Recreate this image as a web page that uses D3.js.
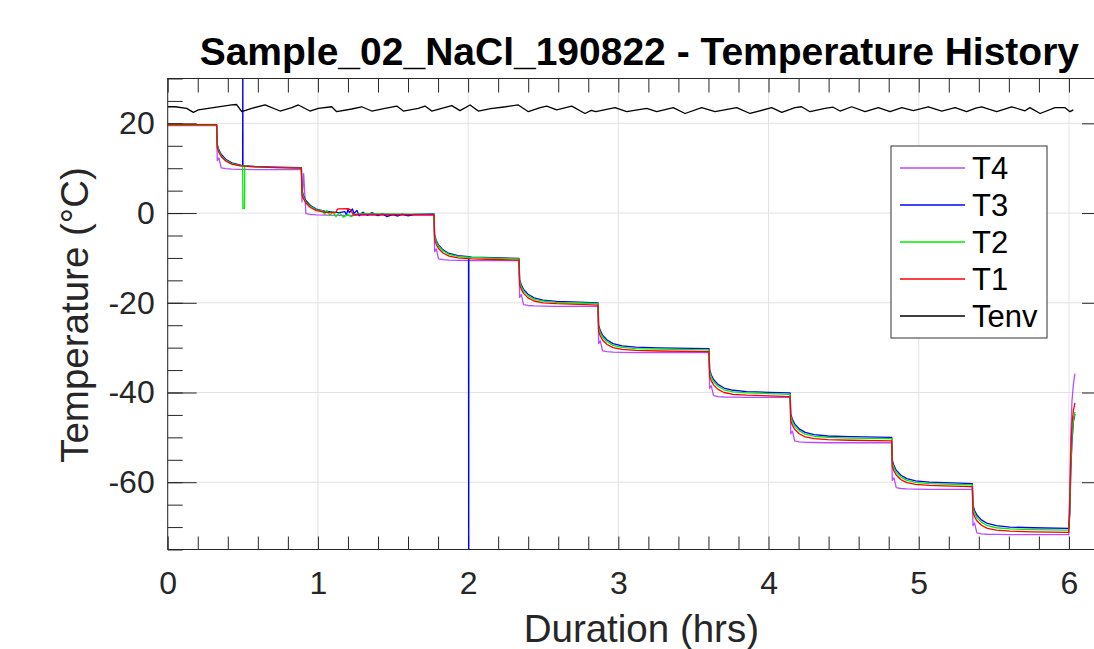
<!DOCTYPE html>
<html><head><meta charset="utf-8">
<script src="https://cdn.jsdelivr.net/npm/d3@7"></script>
<style>body{margin:0;background:#fff} text{font-family:"Liberation Sans",Arial,Helvetica,sans-serif}</style>
</head><body><svg id="c" width="1094" height="649"></svg>
<script>
// ---------- DATA ----------
const titleText = "Sample_02_NaCl_190822 - Temperature History";
const xLabelText = "Duration (hrs)";
const yLabelText = "Temperature (°C)";
const xDomain = [0, 6.28];
const yDomain = [-75, 30];
const xTicks = [0, 1, 2, 3, 4, 5, 6];
const yTicks = [-60, -40, -20, 0, 20];
const xTickLabels = ["0", "1", "2", "3", "4", "5", "6"];
const yTickLabels = ["-60", "-40", "-20", "0", "20"];
const seriesNames = ["T4", "T3", "T2", "T1", "Tenv"];

const timeT = [0, 0.324,
 0.326, 0.330, 0.341, 0.356, 0.386, 0.426, 0.486, 0.576, 0.726, 0.888,
 0.890, 0.894, 0.905, 0.920, 0.950, 0.990, 1.050, 1.140, 1.290, 1.771,
 1.773, 1.777, 1.788, 1.803, 1.833, 1.873, 1.933, 2.023, 2.173, 2.337,
 2.339, 2.343, 2.354, 2.369, 2.399, 2.439, 2.499, 2.589, 2.739, 2.863,
 2.865, 2.869, 2.880, 2.895, 2.925, 2.965, 3.025, 3.115, 3.265, 3.602,
 3.604, 3.608, 3.619, 3.634, 3.664, 3.704, 3.764, 3.854, 4.004, 4.142,
 4.144, 4.148, 4.159, 4.174, 4.204, 4.244, 4.304, 4.394, 4.544, 4.818,
 4.820, 4.824, 4.835, 4.850, 4.880, 4.920, 4.980, 5.070, 5.220, 5.355,
 5.357, 5.361, 5.372, 5.387, 5.417, 5.457, 5.517, 5.607, 5.757, 5.999,
 6.006, 6.012, 6.020, 6.030, 6.040];

const T3 = [19.6, 19.6,
 19.6, 15.3, 14.1, 13.1, 12.0, 11.2, 10.7, 10.4, 10.25, 10.1,
 10.1, 5.0, 3.8, 2.8, 1.7, 0.9, 0.4, 0.1, -0.05, -0.2,
 -0.2, -4.9, -6.1, -7.1, -8.2, -9.0, -9.5, -9.8, -9.95, -10.1,
 -10.1, -14.8, -16.0, -17.0, -18.1, -18.9, -19.4, -19.7, -19.85, -20.0,
 -20.0, -25.0, -26.2, -27.2, -28.3, -29.1, -29.6, -29.9, -30.05, -30.2,
 -30.2, -34.9, -36.1, -37.1, -38.2, -39.0, -39.5, -39.8, -39.95, -40.1,
 -40.1, -44.8, -46.0, -47.0, -48.1, -48.9, -49.4, -49.7, -49.85, -50.0,
 -50.0, -55.1, -56.3, -57.3, -58.4, -59.2, -59.7, -60.0, -60.15, -60.3,
 -60.3, -65.1, -66.3, -67.3, -68.4, -69.2, -69.7, -70.0, -70.15, -70.3,
 -67, -58, -51, -46.5, -44.8];

const T2 = [19.6, 19.6,
 19.6, 15.0, 13.8, 12.8, 11.8, 11.0, 10.55, 10.3, 10.15, 10.0,
 10.0, 4.7, 3.5, 2.5, 1.5, 0.7, 0.25, 0.0, -0.15, -0.3,
 -0.3, -5.2, -6.4, -7.4, -8.4, -9.2, -9.65, -9.9, -10.05, -10.2,
 -10.2, -15.2, -16.4, -17.4, -18.4, -19.2, -19.65, -19.9, -20.05, -20.2,
 -20.2, -25.5, -26.7, -27.7, -28.7, -29.5, -29.95, -30.2, -30.35, -30.5,
 -30.5, -35.4, -36.6, -37.6, -38.6, -39.4, -39.85, -40.1, -40.25, -40.4,
 -40.4, -45.3, -46.5, -47.5, -48.5, -49.3, -49.75, -50.0, -50.15, -50.3,
 -50.3, -55.6, -56.8, -57.8, -58.8, -59.6, -60.05, -60.3, -60.45, -60.6,
 -60.6, -65.7, -66.9, -67.9, -68.9, -69.7, -70.15, -70.4, -70.55, -70.7,
 -66, -57, -50, -46, -44.3];

const T1 = [19.7, 19.7,
 19.7, 14.5, 13.5, 12.6, 11.6, 10.9, 10.5, 10.3, 10.15, 10.0,
 10.0, 4.15, 3.15, 2.25, 1.25, 0.55, 0.15, 0.95, -0.3, -0.35,
 -0.35, -6.0, -7.0, -7.9, -8.9, -9.6, -10.0, -10.2, -10.35, -10.5,
 -10.5, -16.0, -17.0, -17.9, -18.9, -19.6, -20.0, -20.2, -20.35, -20.5,
 -20.5, -26.4, -27.4, -28.3, -29.3, -30.0, -30.4, -30.6, -30.75, -30.9,
 -30.9, -36.4, -37.4, -38.3, -39.3, -40.0, -40.4, -40.6, -40.75, -40.9,
 -40.9, -46.3, -47.3, -48.2, -49.2, -49.9, -50.3, -50.5, -50.65, -50.8,
 -50.8, -56.5, -57.5, -58.4, -59.4, -60.1, -60.5, -60.7, -60.85, -61.0,
 -61.0, -66.7, -67.7, -68.6, -69.6, -70.3, -70.7, -70.9, -71.05, -71.2,
 -64, -54, -47, -44, -42.3];

const T4 = [19.5, 19.5,
 19.5, 11.7, 12.3, 10.1, 9.9, 9.8, 9.75, 9.7, 9.7, 9.7,
 9.7, 2.5, 8.8, -0.1, -0.3, -0.4, -0.45, -0.5, -0.5, -0.5,
 -0.5, -8.6, -8.0, -10.2, -10.4, -10.5, -10.55, -10.6, -10.6, -10.6,
 -10.6, -18.8, -18.2, -20.4, -20.6, -20.7, -20.75, -20.8, -20.8, -20.8,
 -20.8, -29.1, -28.5, -30.7, -30.9, -31.0, -31.05, -31.1, -31.1, -31.1,
 -31.1, -39.1, -38.5, -40.7, -40.9, -41.0, -41.05, -41.1, -41.1, -41.1,
 -41.1, -49.2, -48.6, -50.8, -51.0, -51.1, -51.15, -51.2, -51.2, -51.2,
 -51.2, -59.6, -59.0, -61.2, -61.4, -61.5, -61.55, -61.6, -61.6, -61.6,
 -61.6, -69.7, -69.1, -71.3, -71.5, -71.6, -71.65, -71.7, -71.7, -71.7,
 -62, -50, -42, -38, -35.8];

// spikes and noisy stretches: [time, value]
const T3extra = [[0.499,10.65],[0.5,45],[0.501,10.6],
 [1.18,0.3],[1.19,-0.4],[1.2,0.8],[1.21,0.1],[1.23,0.9],[1.24,-0.1],[1.26,0.6],[1.275,-0.6],
 [1.3,0.2],[1.33,-0.5],[1.36,0.1],[1.4,-0.6],[1.43,-0.1],[1.46,-0.8],[1.5,-0.3],[1.53,-0.7],
 [1.56,-0.2],[1.6,-0.6],[1.64,-0.3],
 [2.003,-9.72],[2.004,-90],[2.005,-9.72]];
const T2extra = [[0.499,10.5],[0.501,1.0],[0.511,1.0],[0.513,10.5],
 [1.03,0.5],[1.045,-0.3],[1.06,0.6],[1.08,-0.5],[1.1,0.3],[1.12,-0.8],[1.15,-0.2],
 [1.17,-0.9],[1.2,-0.3],[1.22,-0.8],[1.25,-0.3]];
const T1extra = [[1.12,0.1],[1.13,0.9],[1.2,1.0],[1.22,0.7],[1.235,-0.45],[1.26,-0.3]];
const T4extra = [];

const Tenv = [[0.0,23.7],[0.05,23.7],[0.126,23.35],[0.171,22.45],[0.204,23.0],[0.27,23.35],
 [0.426,24.1],[0.459,24.2],[0.493,22.6],[0.559,23.35],[0.648,24.1],[0.748,22.75],[0.826,23.5],
 [0.87,24.1],[0.947,22.75],[1.003,23.35],[1.092,23.7],[1.125,22.6],[1.225,23.2],[1.292,23.7],
 [1.358,22.75],[1.447,23.35],[1.525,23.85],[1.569,22.75],[1.668,23.35],[1.713,23.85],[1.758,22.75],
 [1.824,23.35],[1.891,23.95],[1.946,22.85],[2.013,24.1],[2.068,22.75],[2.15,23.3],[2.25,23.7],
 [2.334,24.1],[2.401,22.6],[2.48,23.5],[2.523,23.85],[2.59,23.0],[2.69,23.85],[2.778,22.2],
 [2.82,22.9],[2.85,22.6],[2.978,23.5],[3.056,22.6],[3.189,23.35],[3.256,22.6],[3.366,23.5],
 [3.444,22.2],[3.555,23.5],[3.644,22.6],[3.788,23.5],[3.877,22.2],[4.021,23.5],[4.088,22.45],
 [4.176,23.5],[4.22,23.7],[4.276,22.6],[4.376,23.35],[4.43,23.6],[4.476,22.75],[4.554,23.7],
 [4.643,22.6],[4.731,23.5],[4.809,22.6],[4.887,23.5],[4.964,22.85],[5.064,23.7],[5.153,22.75],
 [5.242,23.5],[5.319,22.6],[5.38,23.4],[5.419,23.7],[5.519,22.6],[5.619,23.7],[5.708,22.8],
 [5.74,23.5],[5.808,22.2],[5.907,23.5],[5.974,23.5],[6.007,22.6],[6.029,23.0]];

// ---------- CHART ----------
const W = 1094, H = 649;
const L = 167.7, R = 1111, T = 78.5, B = 549.5;
const axisColor = "#262626";
const FONT = '"Liberation Sans",Arial,Helvetica,sans-serif';
const x = d3.scaleLinear().domain(xDomain).range([L, R]);
const y = d3.scaleLinear().domain(yDomain).range([B, T]);
const svg = d3.select("#c");
svg.append("rect").attr("width", W).attr("height", H).attr("fill", "#fff");

// grid
svg.append("g").selectAll("line").data(xTicks).join("line")
  .attr("x1", d => x(d)).attr("x2", d => x(d)).attr("y1", T).attr("y2", B)
  .attr("stroke", "#e2e2e2").attr("stroke-width", 1);
svg.append("g").selectAll("line").data(yTicks).join("line")
  .attr("y1", d => y(d)).attr("y2", d => y(d)).attr("x1", L).attr("x2", R)
  .attr("stroke", "#e2e2e2").attr("stroke-width", 1);

// ticks (inward, all four sides)
const xMinor = d3.range(0, 6.3, 0.2);
const yMinor = d3.range(-75, 31, 5);
function tickAxis(gen, tx, ty) {
  const g = svg.append("g").attr("transform", `translate(${tx},${ty})`).call(gen);
  g.select(".domain").remove();
  g.selectAll(".tick line").attr("stroke", axisColor).attr("stroke-width", 1);
  return g;
}
tickAxis(d3.axisBottom(x).tickValues(xMinor).tickSize(-13).tickFormat(""), 0, B);
tickAxis(d3.axisTop(x).tickValues(xMinor).tickSize(-14).tickFormat(""), 0, T);
tickAxis(d3.axisLeft(y).tickValues(yMinor).tickSize(-15).tickFormat(""), L, 0);
tickAxis(d3.axisLeft(y).tickValues(yTicks).tickSize(-29).tickFormat(""), L, 0);
tickAxis(d3.axisRight(y).tickValues(yMinor).tickSize(-15).tickFormat(""), R, 0);
tickAxis(d3.axisRight(y).tickValues(yTicks).tickSize(-29).tickFormat(""), R, 0);

// data
svg.append("clipPath").attr("id", "clip").append("rect")
  .attr("x", L).attr("y", T).attr("width", R - L).attr("height", B - T);
const line = d3.line().x(d => x(d[0])).y(d => y(d[1]));
function mergePts(vals, extra) {
  return timeT.map((t, i) => [t, vals[i]]).concat(extra).sort((a, b) => a[0] - b[0]);
}
const series = [
  {name: "T4", color: "#b84dff", pts: mergePts(T4, T4extra)},
  {name: "T3", color: "#0000ff", pts: mergePts(T3, T3extra)},
  {name: "T2", color: "#00ee00", pts: mergePts(T2, T2extra)},
  {name: "T1", color: "#ff0000", pts: mergePts(T1, T1extra)},
  {name: "Tenv", color: "#000000", pts: Tenv}
];
const dataG = svg.append("g").attr("clip-path", "url(#clip)");
series.forEach(s => {
  dataG.append("path").attr("d", line(s.pts)).attr("fill", "none")
    .attr("stroke", s.color).attr("stroke-width", 1.3).attr("stroke-linejoin", "round");
});

// box
svg.append("rect").attr("x", L).attr("y", T).attr("width", R - L).attr("height", B - T)
  .attr("fill", "none").attr("stroke", axisColor).attr("stroke-width", 1);

// tick labels
const xl = svg.append("g").attr("transform", `translate(0,${B})`)
  .call(d3.axisBottom(x).tickValues(xTicks).tickSize(0).tickPadding(22)
    .tickFormat((d, i) => xTickLabels[i]));
xl.select(".domain").remove();
xl.selectAll("text").attr("font-size", 32).attr("fill", axisColor).attr("font-family", FONT);
const yl = svg.append("g").attr("transform", `translate(${L},0)`)
  .call(d3.axisLeft(y).tickValues(yTicks).tickSize(0).tickPadding(13)
    .tickFormat((d, i) => yTickLabels[i]));
yl.select(".domain").remove();
yl.selectAll("text").attr("font-size", 32).attr("fill", axisColor).attr("font-family", FONT);

// titles
svg.append("text").attr("x", (L + R) / 2).attr("y", 65).attr("text-anchor", "middle")
  .attr("font-size", 39).attr("font-weight", "bold").attr("fill", "#000").text(titleText);
svg.append("text").attr("x", (L + R) / 2 + 2).attr("y", 642).attr("text-anchor", "middle")
  .attr("font-size", 38.5).attr("fill", axisColor).text(xLabelText);
svg.append("text").attr("transform", `translate(88,${(T + B) / 2 + 1}) rotate(-90)`)
  .attr("text-anchor", "middle").attr("font-size", 38.5).attr("fill", axisColor).text(yLabelText);

// legend
const lg = svg.append("g");
lg.append("rect").attr("x", 891).attr("y", 146).attr("width", 156).attr("height", 192)
  .attr("fill", "#fff").attr("stroke", "#333").attr("stroke-width", 1);
const legendOrder = seriesNames.map(n => series.find(s => s.name === n));
legendOrder.forEach((s, i) => {
  const cy = 168 + i * 37;
  lg.append("line").attr("x1", 900).attr("x2", 965).attr("y1", cy).attr("y2", cy)
    .attr("stroke", s.color).attr("stroke-width", 1.3);
  lg.append("text").attr("x", 972).attr("y", cy + 11).attr("font-size", 31)
    .attr("fill", "#000").text(s.name);
});
</script></body></html>
